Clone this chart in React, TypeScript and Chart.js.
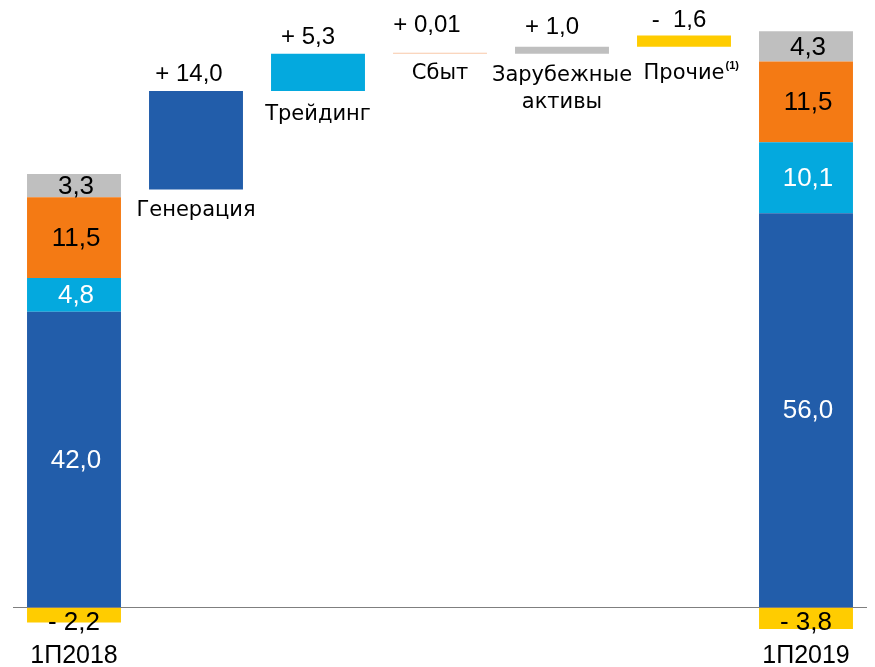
import React, { useEffect, useRef } from 'react';
import { Chart, registerables } from 'chart.js';

Chart.register(...registerables);

// ---- data ----
const categories = ['1П2018', 'Генерация', 'Трейдинг', 'Сбыт', 'Зарубежные активы', 'Прочие', '1П2019'];
const seriesNames = ['Генерация', 'Трейдинг', 'Сбыт', 'Зарубежные активы', 'Прочие'];
const values2018 = [42.0, 4.8, 11.5, 3.3, -2.2];
const values2019 = [56.0, 10.1, 11.5, 4.3, -3.8];
const changes = [14.0, 5.3, 0.01, 1.0, -1.6];
const changeLabels = ['+ 14,0', '+ 5,3', '+ 0,01', '+ 1,0', '-  1,6'];
const yMin = -3.13;
const yMax = 83.5;

// ---- styles ----
const seriesColors = ['#225DAA', '#04A9DE', '#F47A14', '#BFBFBF', '#FFCC00'];
const changeColors = ['#225DAA', '#04A9DE', '#F8C8A8', '#BFBFBF', '#FFCC00'];
const stackTextColors = ['#FFFFFF', '#FFFFFF', '#000000', '#000000', '#000000'];
const changeLabelDx = [-7, -10, -13, -10, -5];
const changeLabelDy = [10, 10, 21, 13, 8];
const catLabelDy = [27, 29, 25, 27, 32];

const FONT = '"Liberation Sans", Arial, sans-serif';
const CAT_FONT = '"DejaVu Sans", Verdana, sans-serif';

const fmt = (v: number) => {
  const s = Math.abs(v).toFixed(1).replace('.', ',');
  return v < 0 ? '- ' + s : s;
};

function buildDatasets() {
  const total2018 = values2018.reduce((a, b) => a + b, 0);
  let running = total2018;
  let c18 = 0;
  let c19 = 0;
  return seriesNames.map((name, i) => {
    const data: any[] = new Array(categories.length).fill(null);
    const v18 = values2018[i];
    const v19 = values2019[i];
    if (v18 >= 0) { data[0] = [c18, c18 + v18]; c18 += v18; } else data[0] = [v18, 0];
    if (v19 >= 0) { data[6] = [c19, c19 + v19]; c19 += v19; } else data[6] = [v19, 0];
    data[i + 1] = [running, running + Math.abs(changes[i])];
    running += changes[i];
    const bg = categories.map((_, idx) => (idx === i + 1 ? changeColors[i] : seriesColors[i]));
    return {
      label: name,
      data,
      backgroundColor: bg,
      borderWidth: 0,
      grouped: false,
      categoryPercentage: 1,
      barPercentage: 0.77,
      minBarLength: 1,
    };
  });
}

const labelPlugin = {
  id: 'labelPlugin',
  afterDatasetsDraw(chart: any) {
    const { ctx, chartArea, scales } = chart;
    const y0 = scales.y.getPixelForValue(0);
    ctx.save();
    // zero axis line
    ctx.strokeStyle = '#7F7F7F';
    ctx.lineWidth = 1;
    ctx.beginPath();
    ctx.moveTo(chartArea.left, Math.round(y0) + 0.5);
    ctx.lineTo(chartArea.right, Math.round(y0) + 0.5);
    ctx.stroke();

    ctx.textAlign = 'center';
    // stacked totals labels
    [0, 6].forEach((idx) => {
      const vals = idx === 0 ? values2018 : values2019;
      seriesNames.forEach((_, i) => {
        const el = chart.getDatasetMeta(i).data[idx];
        if (!el) return;
        ctx.font = '26px ' + FONT;
        ctx.fillStyle = stackTextColors[i];
        if (vals[i] < 0) {
          ctx.textBaseline = 'alphabetic';
          ctx.fillText(fmt(vals[i]), el.x, y0 + 23);
        } else {
          ctx.textBaseline = 'middle';
          ctx.fillText(fmt(vals[i]), el.x + 2, (el.y + el.base) / 2 + 1);
        }
      });
      const el0 = chart.getDatasetMeta(0).data[idx];
      ctx.fillStyle = '#000000';
      ctx.font = '25px ' + FONT;
      ctx.textBaseline = 'alphabetic';
      ctx.fillText(categories[idx], el0.x, 663);
    });

    // change bars labels
    seriesNames.forEach((name, i) => {
      const el = chart.getDatasetMeta(i).data[i + 1];
      if (!el) return;
      const top = Math.min(el.y, el.base);
      const bottom = Math.max(el.y, el.base);
      ctx.fillStyle = '#000000';
      ctx.textBaseline = 'alphabetic';
      ctx.textAlign = 'center';
      ctx.font = '24px ' + FONT;
      ctx.fillText(changeLabels[i], el.x + changeLabelDx[i], top - changeLabelDy[i]);
      ctx.font = '21px ' + CAT_FONT;
      const by = bottom + catLabelDy[i];
      if (i === 3) {
        const parts = name.split(' ');
        ctx.fillText(parts[0], el.x, by);
        ctx.fillText(parts[1], el.x, by + 27);
      } else if (i === 4) {
        const w = ctx.measureText(name).width;
        ctx.textAlign = 'left';
        const sx = el.x - w / 2;
        ctx.fillText(name, sx, by);
        ctx.font = 'bold 11px ' + FONT;
        ctx.fillText('(1)', sx + w + 1, by - 10);
      } else {
        ctx.fillText(name, el.x, by);
      }
    });
    ctx.restore();
  },
};

export default function App() {
  const canvasRef = useRef<HTMLCanvasElement | null>(null);
  useEffect(() => {
    if (!canvasRef.current) return;
    const chart = new Chart(canvasRef.current, {
      type: 'bar',
      data: { labels: categories, datasets: buildDatasets() as any },
      options: {
        animation: false,
        responsive: true,
        maintainAspectRatio: false,
        layout: { padding: { left: 13, right: 8, top: 20, bottom: 38 } },
        plugins: { legend: { display: false }, tooltip: { enabled: false } },
        scales: {
          x: { display: false },
          y: { display: false, min: yMin, max: yMax },
        },
      },
      plugins: [labelPlugin],
    });
    return () => chart.destroy();
  }, []);
  return (
    <div style={{ position: 'absolute', left: 0, top: 0, width: 875, height: 667, background: '#fff' }}>
      <canvas ref={canvasRef} />
    </div>
  );
}
